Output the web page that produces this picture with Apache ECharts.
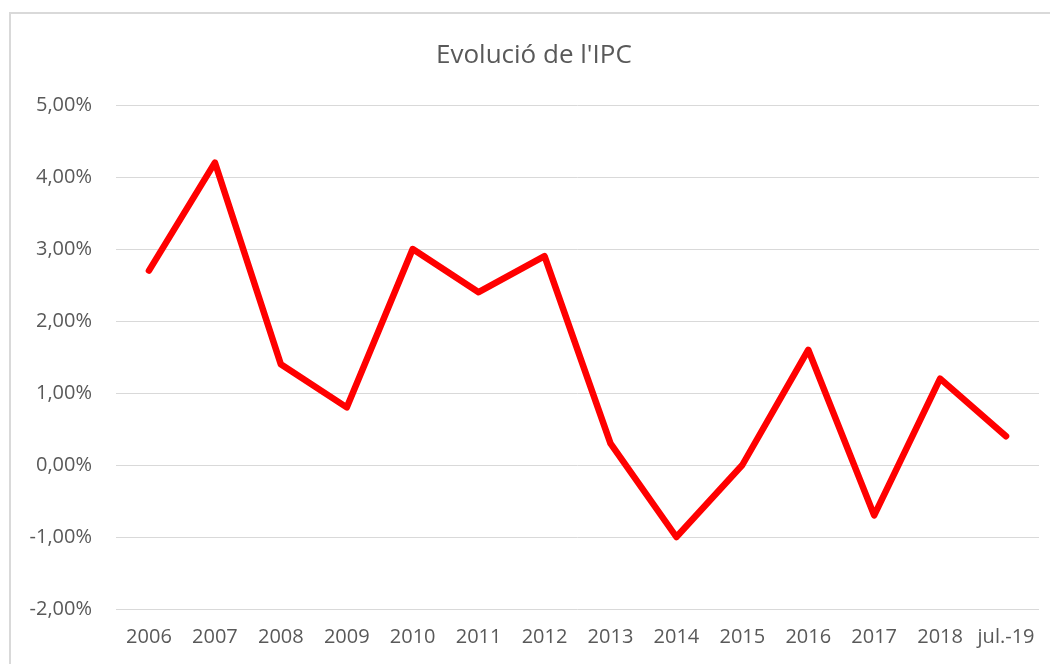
<!DOCTYPE html>
<html>
<head>
<meta charset="utf-8">
<script src="https://cdn.jsdelivr.net/npm/echarts@6/dist/echarts.min.js"></script>
<style>
	html,body{margin:0;padding:0;background:#fff;}
	#chart{width:1050px;height:664px;}
</style>
</head>
<body>
<div id="chart"></div>
<script>
// dades de l'IPC (anual, %)
var categories = ["2006","2007","2008","2009","2010","2011","2012","2013","2014","2015","2016","2017","2018","jul.-19"];
var ipcValues = [2.7, 4.2, 1.4, 0.8, 3.0, 2.4, 2.9, 0.3, -1.0, 0.0, 1.6, -0.7, 1.2, 0.4];
var yMin = -2, yMax = 5, yStep = 1;

var fontName = "Open Sans";
var labelColor = "#595959";

var chart = echarts.init(document.getElementById("chart"), null, {renderer: "canvas"});

chart.setOption({
	animation: false,
	backgroundColor: "#ffffff",
	graphic: [{
		type: "rect",
		shape: {x: 10, y: 13, width: 1060, height: 700},
		style: {fill: "none", stroke: "#d9d9d9", lineWidth: 2},
		silent: true
	}],
	title: {
		text: "Evolució de l'IPC",
		left: 431,
		top: 38,
		textStyle: {fontFamily: fontName, fontSize: 26, fontWeight: "normal", color: labelColor}
	},
	grid: {left: 116, right: 11, top: 105, bottom: 55, containLabel: false},
	xAxis: {
		type: "category",
		data: categories,
		boundaryGap: true,
		axisLine: {show: false},
		axisTick: {show: false},
		axisLabel: {fontFamily: fontName, fontSize: 20, color: labelColor, margin: 18, interval: 0}
	},
	yAxis: {
		type: "value",
		min: yMin,
		max: yMax,
		interval: yStep,
		axisLine: {show: false},
		axisTick: {show: false},
		splitLine: {lineStyle: {color: "#d9d9d9", width: 1}},
		axisLabel: {
			fontFamily: fontName, fontSize: 20, color: labelColor, margin: 24,
			formatter: function(v){ return v.toFixed(2).replace(".", ",") + "%"; }
		}
	},
	series: [{
		type: "line",
		data: ipcValues,
		showSymbol: false,
		symbol: "none",
		lineStyle: {color: "#ff0000", width: 6.5, cap: "round", join: "round"}
	}]
});
</script>
</body>
</html>
